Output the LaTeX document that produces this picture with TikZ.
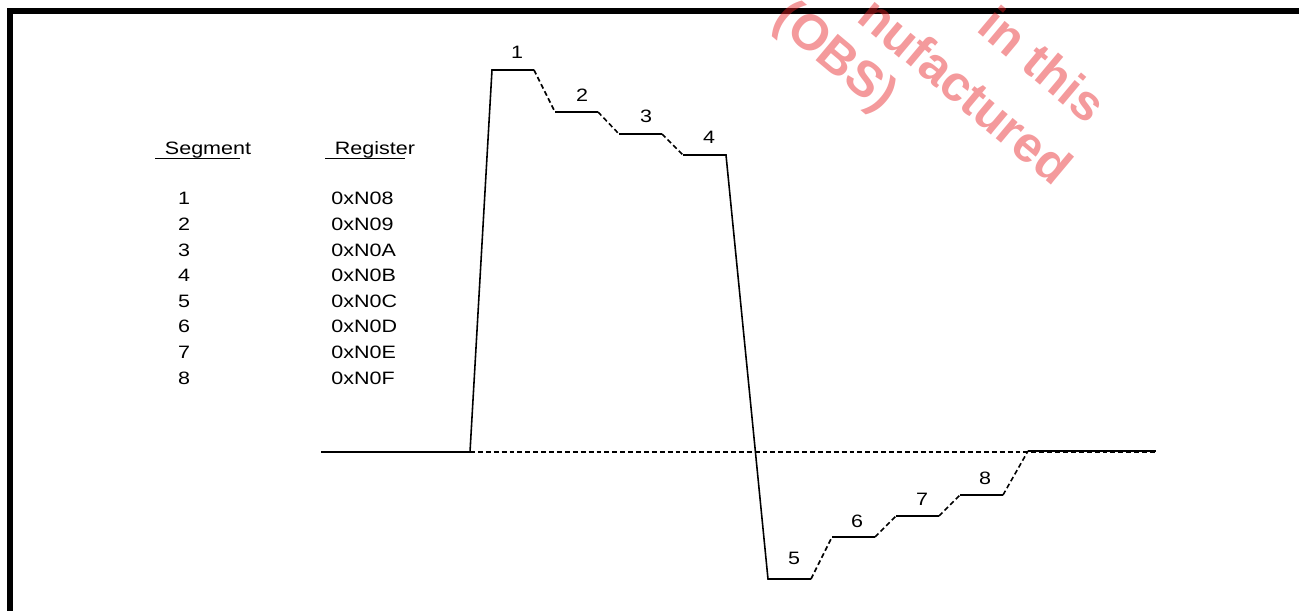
\documentclass[tikz,border=0pt]{standalone}
\usepackage{fontspec}
\setmainfont{Liberation Sans}
\definecolor{stampRed}{RGB}{230,30,35}
\newcommand\colorFrame{black}
\newcommand\colorWave{black}
\newcommand\colorStamp{stampRed}
\newcommand\frameWidth{0.12cm}
\newcommand\waveWidth{0.9pt}
\newcommand\rowStart{205}
\newcommand\rowDist{25.6}

\begin{document}
\begin{tikzpicture}[x=0.02cm, y=-0.02cm,
	lbl/.style={font=\fontsize{10.2}{12}\selectfont, xscale=1.2, inner sep=0pt},
	stamp/.style={font=\fontsize{28.5}{34}\selectfont\bfseries, text=\colorStamp, opacity=0.45, rotate=-40, inner sep=0pt},
	wave/.style={color=\colorWave, line width=\waveWidth},
	jump/.style={wave, dash pattern=on 2.8pt off 1.7pt}]
	\useasboundingbox (0,0) rectangle (1299,611);

	% frame
	\draw[color=\colorFrame, line width=\frameWidth] (10,611) |- (1299,11);

	% segment / register table
	\node[lbl, anchor=base] (segHead) at (208,155) {Segment};
	\node[lbl, anchor=base] (regHead) at (375,155) {Register};
	\draw (155,158) to (240,158);
	\draw (325,158) to (405,158);
	\foreach \i/\r in {1/8,2/9,3/A,4/B,5/C,6/D,7/E,8/F}{
		\node[lbl, anchor=base] (seg\i) at (184,\rowStart+\rowDist*\i-\rowDist) {\i};
		\node[lbl, anchor=base west] (reg\i) at (331,\rowStart+\rowDist*\i-\rowDist) {0xN0\r};
	}

	% waveform corners
	\coordinate (b0) at (321,452);
	\coordinate (b1) at (470,452);
	\coordinate (b2) at (1156,452);
	\coordinate (p1a) at (492,70);
	\coordinate (p1b) at (534,70);
	\coordinate (p2a) at (555,112);
	\coordinate (p2b) at (598,112);
	\coordinate (p3a) at (619,134);
	\coordinate (p3b) at (662,134);
	\coordinate (p4a) at (683,155);
	\coordinate (p4b) at (726,155);
	\coordinate (p5a) at (768,579);
	\coordinate (p5b) at (811,579);
	\coordinate (p6a) at (832,537);
	\coordinate (p6b) at (875,537);
	\coordinate (p7a) at (896,516);
	\coordinate (p7b) at (939,516);
	\coordinate (p8a) at (960,495);
	\coordinate (p8b) at (1003,495);
	\coordinate (e0) at (1028,451);
	\coordinate (e1) at (1156,451);

	\draw[wave] (b0) to (b1) to (p1a) to (p1b);
	\draw[wave] (p4a) to (p4b) to (p5a) to (p5b);
	\foreach \a/\b in {p2a/p2b,p3a/p3b,p6a/p6b,p7a/p7b,p8a/p8b,e0/e1}{
		\draw[wave] (\a) to (\b);
	}
	\foreach \a/\b in {p1b/p2a,p2b/p3a,p3b/p4a,p5b/p6a,p6b/p7a,p7b/p8a,p8b/e0,b1/b2}{
		\draw[jump] (\a) to (\b);
	}

	% segment numbers
	\foreach \n/\x/\y in {1/517/59,2/582/102,3/646/123,4/709/144,5/794/564,6/857/527,7/922/505,8/985/484}{
		\node[lbl, anchor=base] (lvl\n) at (\x,\y) {\n};
	}

	% stamp
	\begin{scope}
		\clip (0,0) rectangle (1299,611);
		\node[stamp] (stampA) at (1043,64) {in this};
		\node[stamp] (stampB) at (966,90) {nufactured};
		\node[stamp] (stampC) at (834,58) {(OBS)};
	\end{scope}
\end{tikzpicture}
\end{document}
